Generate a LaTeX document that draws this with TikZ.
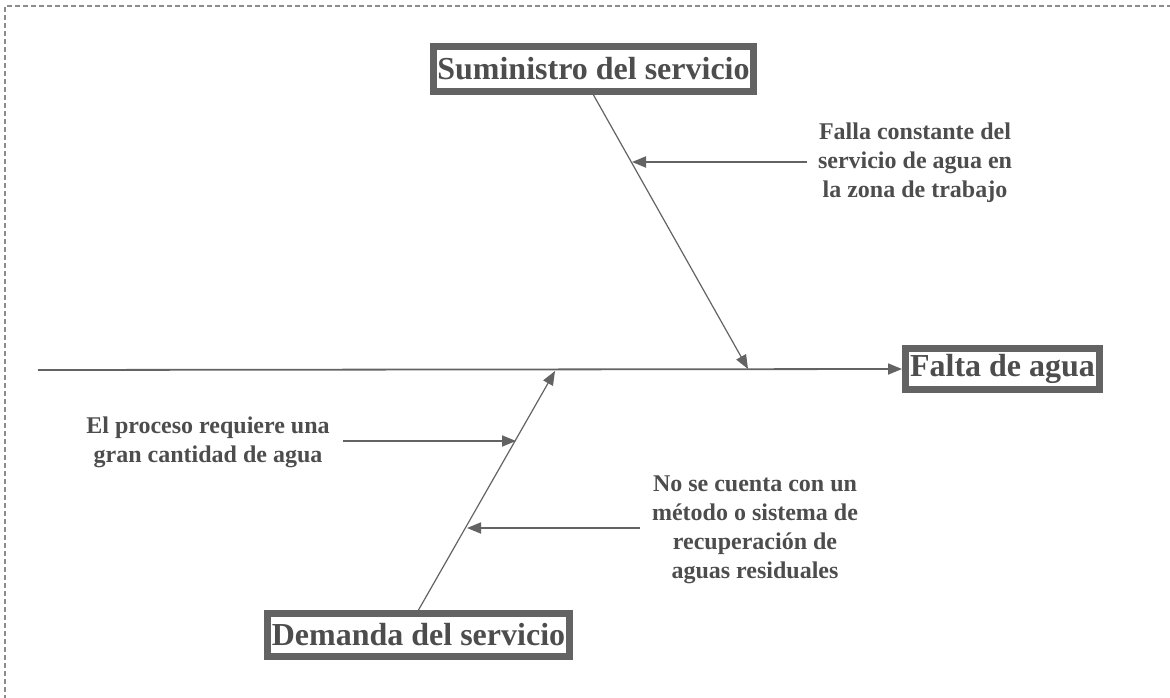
\documentclass[tikz,border=0pt]{standalone}
\usepackage{fontspec}
\setmainfont{Liberation Serif}
\usetikzlibrary{arrows.meta}
\definecolor{txt}{HTML}{4D4D4D}
\definecolor{ln}{HTML}{636363}
\definecolor{brd}{HTML}{8C8C8C}
\tikzset{
  mainbox/.style={draw=ln, line width=7pt, fill=white, inner sep=0pt, text=txt,
    font=\fontsize{32}{36}\selectfont\bfseries},
  cause/.style={align=center, inner sep=0pt, text=txt,
    font=\fontsize{24}{29}\selectfont\bfseries},
  spine/.style={draw=ln, line width=1.8pt, -{Triangle[length=14pt,width=11pt]}},
  bone/.style={draw=ln, line width=1.2pt, -{Triangle[length=14pt,width=11pt]}},
  twig/.style={draw=ln, line width=1.8pt, -{Triangle[length=14pt,width=11pt]}},
  frame/.style={draw=brd, line width=1.6pt, dash pattern=on 5pt off 3pt}
}
\begin{document}
\begin{tikzpicture}[x=1pt,y=-1pt]
\useasboundingbox (0,0) rectangle (1170,698);
% frame (top and left visible)
\coordinate (fc) at (5,6);
\coordinate (fr) at (1172,6);
\coordinate (fb) at (5,700);
\draw[frame] (fr) -- (fc) -- (fb);

% boxes
\node[mainbox, minimum width=320pt, minimum height=45pt] (sum) at (593.5,69) {Suministro del servicio};
\node[mainbox, minimum width=194pt, minimum height=41pt] (fal) at (1002.5,369) {Falta de agua};
\node[mainbox, minimum width=302pt, minimum height=43pt] (dem) at (418.5,635) {Demanda del servicio};

% spine
\coordinate (s0) at (38,370);
\draw[spine] (s0) -- (fal.west);

% bones
\coordinate (tt) at (748,369);
\coordinate (bt) at (555,371);
\draw[bone] (sum.south) -- (tt);
\draw[bone] (dem.north) -- (bt);

% causes
\node[cause] (c1) at (915,163) {Falla constante del\\servicio de agua en\\la zona de trabajo};
\node[cause] (c2) at (208,442) {El proceso requiere una\\gran cantidad de agua};
\node[cause] (c3) at (755,530) {No se cuenta con un\\método o sistema de\\recuperación de\\aguas residuales};

\coordinate (a1s) at (807,162);
\coordinate (a1e) at (632,162);
\coordinate (a2s) at (343,441);
\coordinate (a2e) at (516,441);
\coordinate (a3s) at (640,528);
\coordinate (a3e) at (467,528);
\draw[twig] (a1s) -- (a1e);
\draw[twig] (a2s) -- (a2e);
\draw[twig] (a3s) -- (a3e);
\end{tikzpicture}
\end{document}
